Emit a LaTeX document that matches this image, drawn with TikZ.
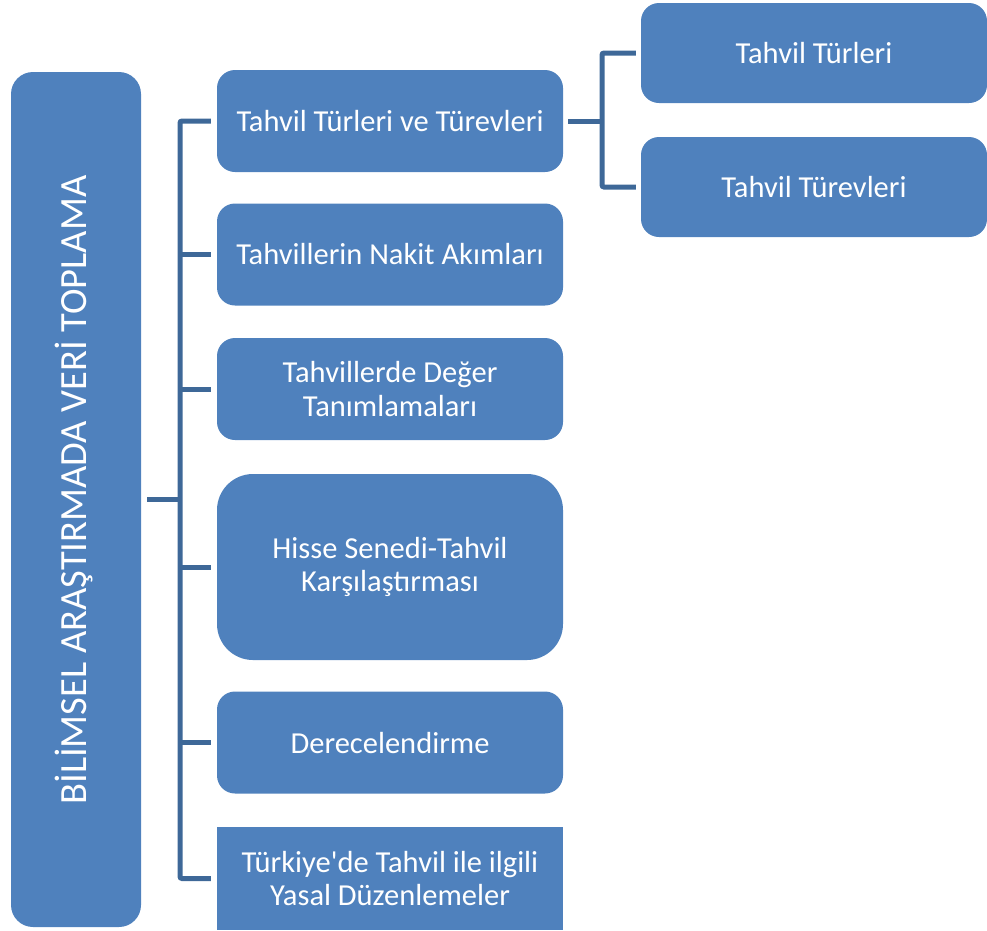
\documentclass[tikz,border=0pt]{standalone}
\usepackage{fontspec}
\setmainfont{Carlito}[Ligatures=TeXOff]
\definecolor{boxblue}{HTML}{4F81BD}
\definecolor{linkblue}{HTML}{3E6898}
\begin{document}
\begin{tikzpicture}[x=1pt,y=-1pt,
  bx/.style={fill=boxblue,draw=none,rounded corners=18pt,inner sep=0pt,
    text=white,align=center,font=\fontsize{30.5}{33.5}\selectfont},
  midbox/.style={bx,minimum width=346pt,minimum height=102pt},
  rightbox/.style={bx,minimum width=346pt,minimum height=100pt},
  link/.style={draw=linkblue,line width=5pt,rounded corners=2pt}]
\useasboundingbox (0,0) rectangle (987,930);
\node[bx,minimum width=130pt,minimum height=855pt,rounded corners=22pt] (L) at (76,499.5) {};
\node[text=white,rotate=90,font=\fontsize{38.5}{40}\selectfont,inner sep=0pt] (Lt) at (74,490) {BİLİMSEL ARAŞTIRMADA VERİ TOPLAMA};
\node[midbox] (m1) at (390,121) {Tahvil Türleri ve Türevleri};
\node[midbox] (m2) at (390,254.5) {Tahvillerin Nakit Akımları};
\node[midbox] (m3) at (390,389) {Tahvillerde Değer\\Tanımlamaları};
\node[midbox,minimum height=186pt,rounded corners=36pt] (m4) at (390,567) {Hisse Senedi-Tahvil\\Karşılaştırması};
\node[midbox] (m5) at (390,742.5) {Derecelendirme};
\node[midbox,rounded corners=0pt,minimum height=103pt] (m6) at (390,878.5) {Türkiye'de Tahvil ile ilgili\\Yasal Düzenlemeler};
\node[rightbox] (r1) at (814,53) {Tahvil Türleri};
\node[rightbox] (r2) at (814,187) {Tahvil Türevleri};
\coordinate (sp) at (180,499);
\coordinate (rs) at (602,121);
\draw[link] ([xshift=6pt]L.east |- sp) -- (sp);
\draw[link] ([xshift=-6pt]m1.west) -| (sp) |- ([xshift=-6pt]m6.west);
\foreach \m in {m2,m3,m4,m5}{
  \draw[link] ([xshift=-6pt]\m.west) -- (\m.west -| sp);
}
\draw[link] ([xshift=5pt]m1.east) -- (rs);
\draw[link] ([xshift=-5pt]r1.west) -| (rs) |- ([xshift=-5pt]r2.west);
\end{tikzpicture}
\end{document}
